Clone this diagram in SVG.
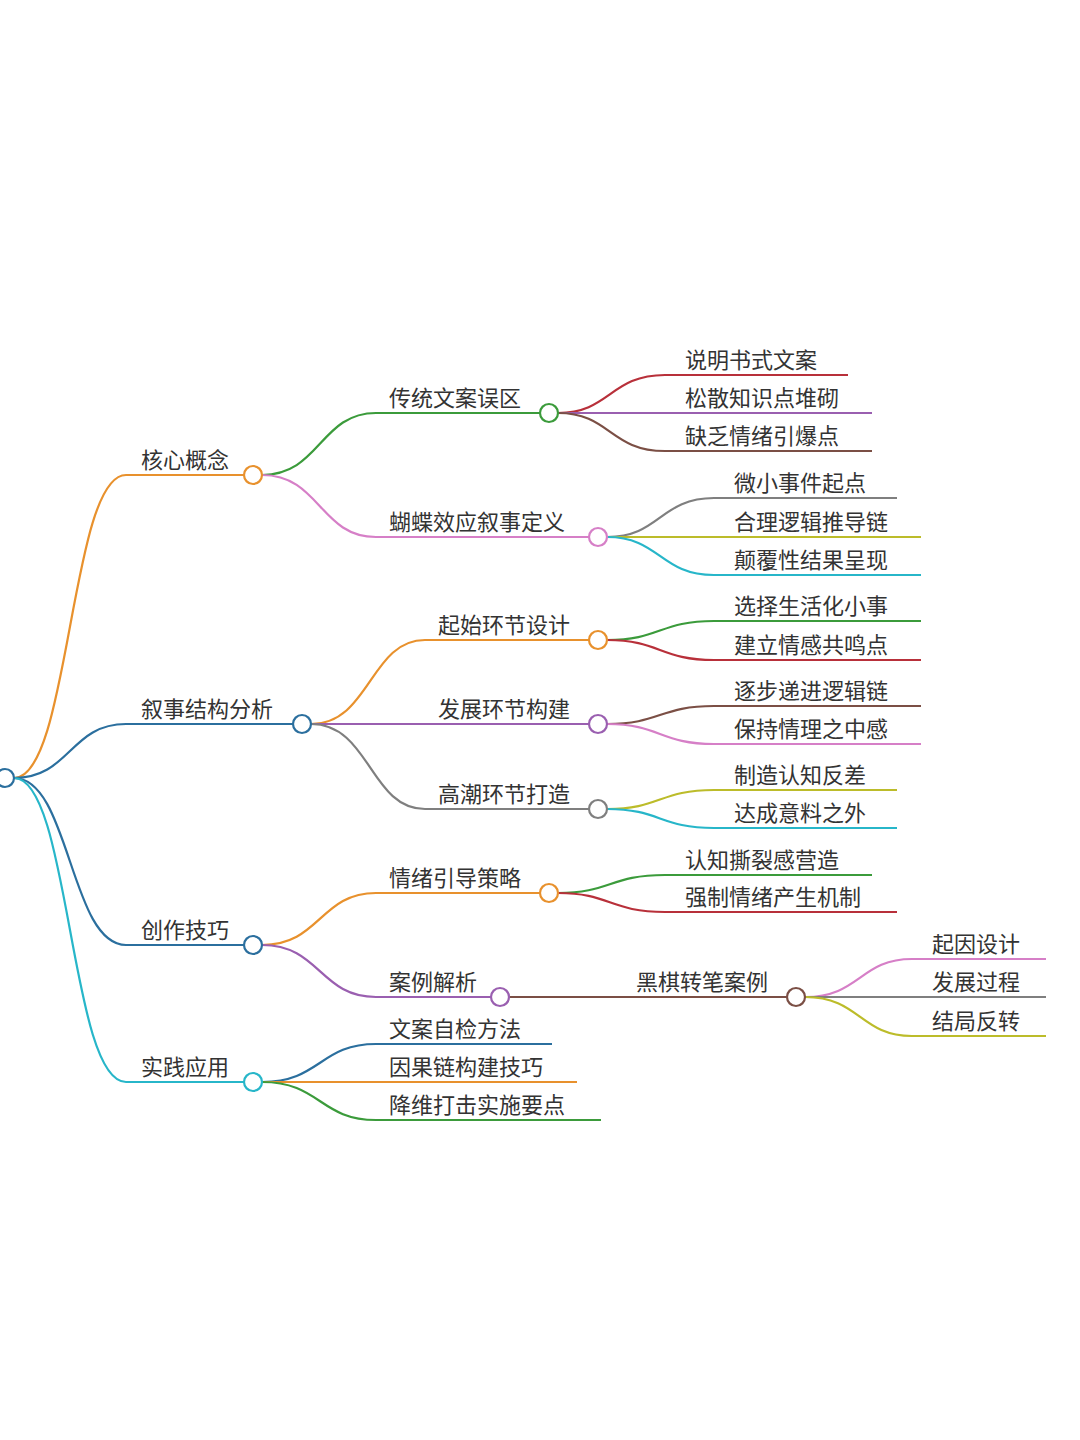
<svg xmlns="http://www.w3.org/2000/svg" width="1080" height="1440" viewBox="0 0 1080 1440">
<style>
text{font-family:"Noto Sans CJK SC","Liberation Sans",sans-serif;font-size:22px;fill:#333}
path{fill:none;stroke-width:2.2}
circle{fill:#fff;stroke-width:2.2}
.o{stroke:#e8912d}.b{stroke:#2b6f9e}.c{stroke:#27b6c9}.g{stroke:#3b9b3b}.p{stroke:#d67fc7}.r{stroke:#b8303a}.v{stroke:#9a5fb0}.br{stroke:#7b4f45}.gy{stroke:#7f7f7f}.ol{stroke:#bcbc2a}
</style>
<rect width="1080" height="1440" fill="#fff"/>
<g id="connectors">
<path class="o" d="M14,778 C70,778 70,475 126,475 H244"/>
<path class="b" d="M14,778 C70,778 70,724 126,724 H293"/>
<path class="b" d="M14,778 C70,778 70,945 126,945 H244"/>
<path class="c" d="M14,778 C70,778 70,1082 126,1082 H244"/>
<path class="g" d="M262,475 C320,475 320,413 376,413 H540"/>
<path class="p" d="M262,475 C320,475 320,537 376,537 H589"/>
<path class="r" d="M558,413 C610,413 610,375 665,375 H848"/>
<path class="v" d="M558,413 H872"/>
<path class="br" d="M558,413 C610,413 610,451 665,451 H872"/>
<path class="gy" d="M607,537 C660,537 660,498 714,498 H897"/>
<path class="ol" d="M607,537 H921"/>
<path class="c" d="M607,537 C660,537 660,575 714,575 H921"/>
<path class="o" d="M311,724 C370,724 370,640 425,640 H589"/>
<path class="v" d="M311,724 H589"/>
<path class="gy" d="M311,724 C370,724 370,809 425,809 H589"/>
<path class="g" d="M607,640 C660,640 660,621 714,621 H921"/>
<path class="r" d="M607,640 C660,640 660,660 714,660 H921"/>
<path class="br" d="M607,724 C660,724 660,706 714,706 H921"/>
<path class="p" d="M607,724 C660,724 660,744 714,744 H921"/>
<path class="ol" d="M607,809 C660,809 660,790 714,790 H897"/>
<path class="c" d="M607,809 C660,809 660,828 714,828 H897"/>
<path class="o" d="M262,945 C320,945 320,893 376,893 H540"/>
<path class="v" d="M262,945 C320,945 320,997 376,997 H491"/>
<path class="g" d="M558,893 C610,893 610,875 665,875 H872"/>
<path class="r" d="M558,893 C610,893 610,912 665,912 H897"/>
<path class="br" d="M509,997 H787"/>
<path class="p" d="M805,997 C860,997 860,959 912,959 H1046"/>
<path class="gy" d="M805,997 H1046"/>
<path class="ol" d="M805,997 C860,997 860,1036 912,1036 H1046"/>
<path class="b" d="M262,1082 C320,1082 320,1044 376,1044 H552"/>
<path class="o" d="M262,1082 H577"/>
<path class="g" d="M262,1082 C320,1082 320,1120 376,1120 H601"/>
</g>
<g id="root"><circle class="b" cx="5" cy="778" r="9"/></g>
<g id="n1"><circle class="o" cx="253" cy="475" r="9"/><text x="141" y="468">核心概念</text></g>
<g id="n2"><circle class="b" cx="302" cy="724" r="9"/><text x="141" y="717">叙事结构分析</text></g>
<g id="n3"><circle class="b" cx="253" cy="945" r="9"/><text x="141" y="938">创作技巧</text></g>
<g id="n4"><circle class="c" cx="253" cy="1082" r="9"/><text x="141" y="1075">实践应用</text></g>
<g id="n11"><circle class="g" cx="549" cy="413" r="9"/><text x="389" y="406">传统文案误区</text></g>
<g id="n12"><circle class="p" cx="598" cy="537" r="9"/><text x="389" y="530">蝴蝶效应叙事定义</text></g>
<g id="l111"><text x="685" y="368">说明书式文案</text></g>
<g id="l112"><text x="685" y="406">松散知识点堆砌</text></g>
<g id="l113"><text x="685" y="444">缺乏情绪引爆点</text></g>
<g id="l121"><text x="734" y="491">微小事件起点</text></g>
<g id="l122"><text x="734" y="530">合理逻辑推导链</text></g>
<g id="l123"><text x="734" y="568">颠覆性结果呈现</text></g>
<g id="n21"><circle class="o" cx="598" cy="640" r="9"/><text x="438" y="633">起始环节设计</text></g>
<g id="n22"><circle class="v" cx="598" cy="724" r="9"/><text x="438" y="717">发展环节构建</text></g>
<g id="n23"><circle class="gy" cx="598" cy="809" r="9"/><text x="438" y="802">高潮环节打造</text></g>
<g id="l211"><text x="734" y="614">选择生活化小事</text></g>
<g id="l212"><text x="734" y="653">建立情感共鸣点</text></g>
<g id="l221"><text x="734" y="699">逐步递进逻辑链</text></g>
<g id="l222"><text x="734" y="737">保持情理之中感</text></g>
<g id="l231"><text x="734" y="783">制造认知反差</text></g>
<g id="l232"><text x="734" y="821">达成意料之外</text></g>
<g id="n31"><circle class="o" cx="549" cy="893" r="9"/><text x="389" y="886">情绪引导策略</text></g>
<g id="n32"><circle class="v" cx="500" cy="997" r="9"/><text x="389" y="990">案例解析</text></g>
<g id="l311"><text x="685" y="868">认知撕裂感营造</text></g>
<g id="l312"><text x="685" y="905">强制情绪产生机制</text></g>
<g id="n321"><circle class="br" cx="796" cy="997" r="9"/><text x="636" y="990">黑棋转笔案例</text></g>
<g id="l3211"><text x="932" y="952">起因设计</text></g>
<g id="l3212"><text x="932" y="990">发展过程</text></g>
<g id="l3213"><text x="932" y="1029">结局反转</text></g>
<g id="l41"><text x="389" y="1037">文案自检方法</text></g>
<g id="l42"><text x="389" y="1075">因果链构建技巧</text></g>
<g id="l43"><text x="389" y="1113">降维打击实施要点</text></g>
</svg>
